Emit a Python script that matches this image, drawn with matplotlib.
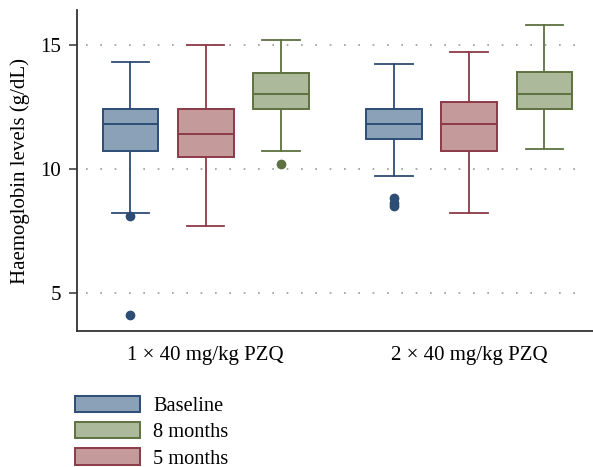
import matplotlib
matplotlib.use("Agg")
import matplotlib.pyplot as plt
from matplotlib.patches import Patch

plt.rcParams['font.family'] = ['Liberation Serif', 'DejaVu Serif']

groups = ["1 × 40 mg/kg PZQ", "2 × 40 mg/kg PZQ"]
series = ["Baseline", "5 months", "8 months"]

# stats per series, per group: (whislo, q1, med, q3, whishi)
baseline_stats = [(8.2, 10.7, 11.8, 12.4, 14.3), (9.7, 11.2, 11.8, 12.4, 14.2)]
months5_stats = [(7.7, 10.45, 11.4, 12.4, 15.0), (8.2, 10.7, 11.8, 12.7, 14.7)]
months8_stats = [(10.7, 12.42, 13.0, 13.85, 15.2), (10.8, 12.42, 13.0, 13.9, 15.8)]
baseline_out = [[8.1, 4.1], [8.8, 8.6, 8.5]]
months5_out = [[], []]
months8_out = [[10.2], []]

yticks = [5, 10, 15]

fills = ["#8aa1b7", "#c49a9b", "#acb99a"]
edges = ["#2d4d75", "#8c3a47", "#5d7240"]
offsets = [-0.285, 0.0, 0.285]

fig = plt.figure(figsize=(5.93, 4.67), dpi=100)
ax = fig.add_axes([76.7/593, 1-331/467, 1-76.7/593, (331-10)/467])

all_stats = [baseline_stats, months5_stats, months8_stats]
all_out = [baseline_out, months5_out, months8_out]
for si in range(3):
    stats = []
    for gi in range(2):
        lo, q1, med, q3, hi = all_stats[si][gi]
        stats.append(dict(whislo=lo, q1=q1, med=med, q3=q3, whishi=hi,
                          fliers=all_out[si][gi]))
    pos = [gi + offsets[si] for gi in range(2)]
    ax.bxp(stats, positions=pos, widths=0.212, patch_artist=True,
           showfliers=True, manage_ticks=False,
           boxprops=dict(facecolor=fills[si], edgecolor=edges[si], linewidth=1.4),
           medianprops=dict(color=edges[si], linewidth=1.4),
           whiskerprops=dict(color=edges[si], linewidth=1.3),
           capprops=dict(color=edges[si], linewidth=1.3),
           capwidths=0.143,
           flierprops=dict(marker='o', markerfacecolor=edges[si],
                           markeredgecolor=edges[si], markersize=6))

for y in yticks:
    ax.plot([-0.455, 1.44], [y, y], color="#999999", linewidth=1.2,
            linestyle=(0, (1, 7.6)), zorder=0)

ax.set_xlim(-0.489, 1.469)
ax.set_ylim(3.46, 16.39)
ax.set_yticks(yticks)
ax.set_xticks([0, 1])
ax.set_xticklabels(groups)
ax.tick_params(axis='x', length=0, pad=11, labelsize=15)
ax.tick_params(axis='y', length=6, width=1.2, pad=5.5, labelsize=15, color="#444444")
for s in ["top", "right"]:
    ax.spines[s].set_visible(False)
for s in ["left", "bottom"]:
    ax.spines[s].set_color("#333333")
    ax.spines[s].set_linewidth(1.3)
ax.set_ylabel("Haemoglobin levels (g/dL)", fontsize=15)
ax.yaxis.set_label_coords(-0.09, 0.5)

order = [0, 2, 1]
handles = [Patch(facecolor=fills[i], edgecolor=edges[i], linewidth=1.4,
                 label=series[i]) for i in order]
fig.legend(handles=handles, loc="upper left",
           bbox_to_anchor=(75/593, 1-395.5/467), frameon=False,
           fontsize=14.7, handlelength=3.19, handleheight=0.88,
           labelspacing=0.29, handletextpad=0.64, borderpad=0,
           borderaxespad=0)

fig.savefig("out.png", dpi=100)
